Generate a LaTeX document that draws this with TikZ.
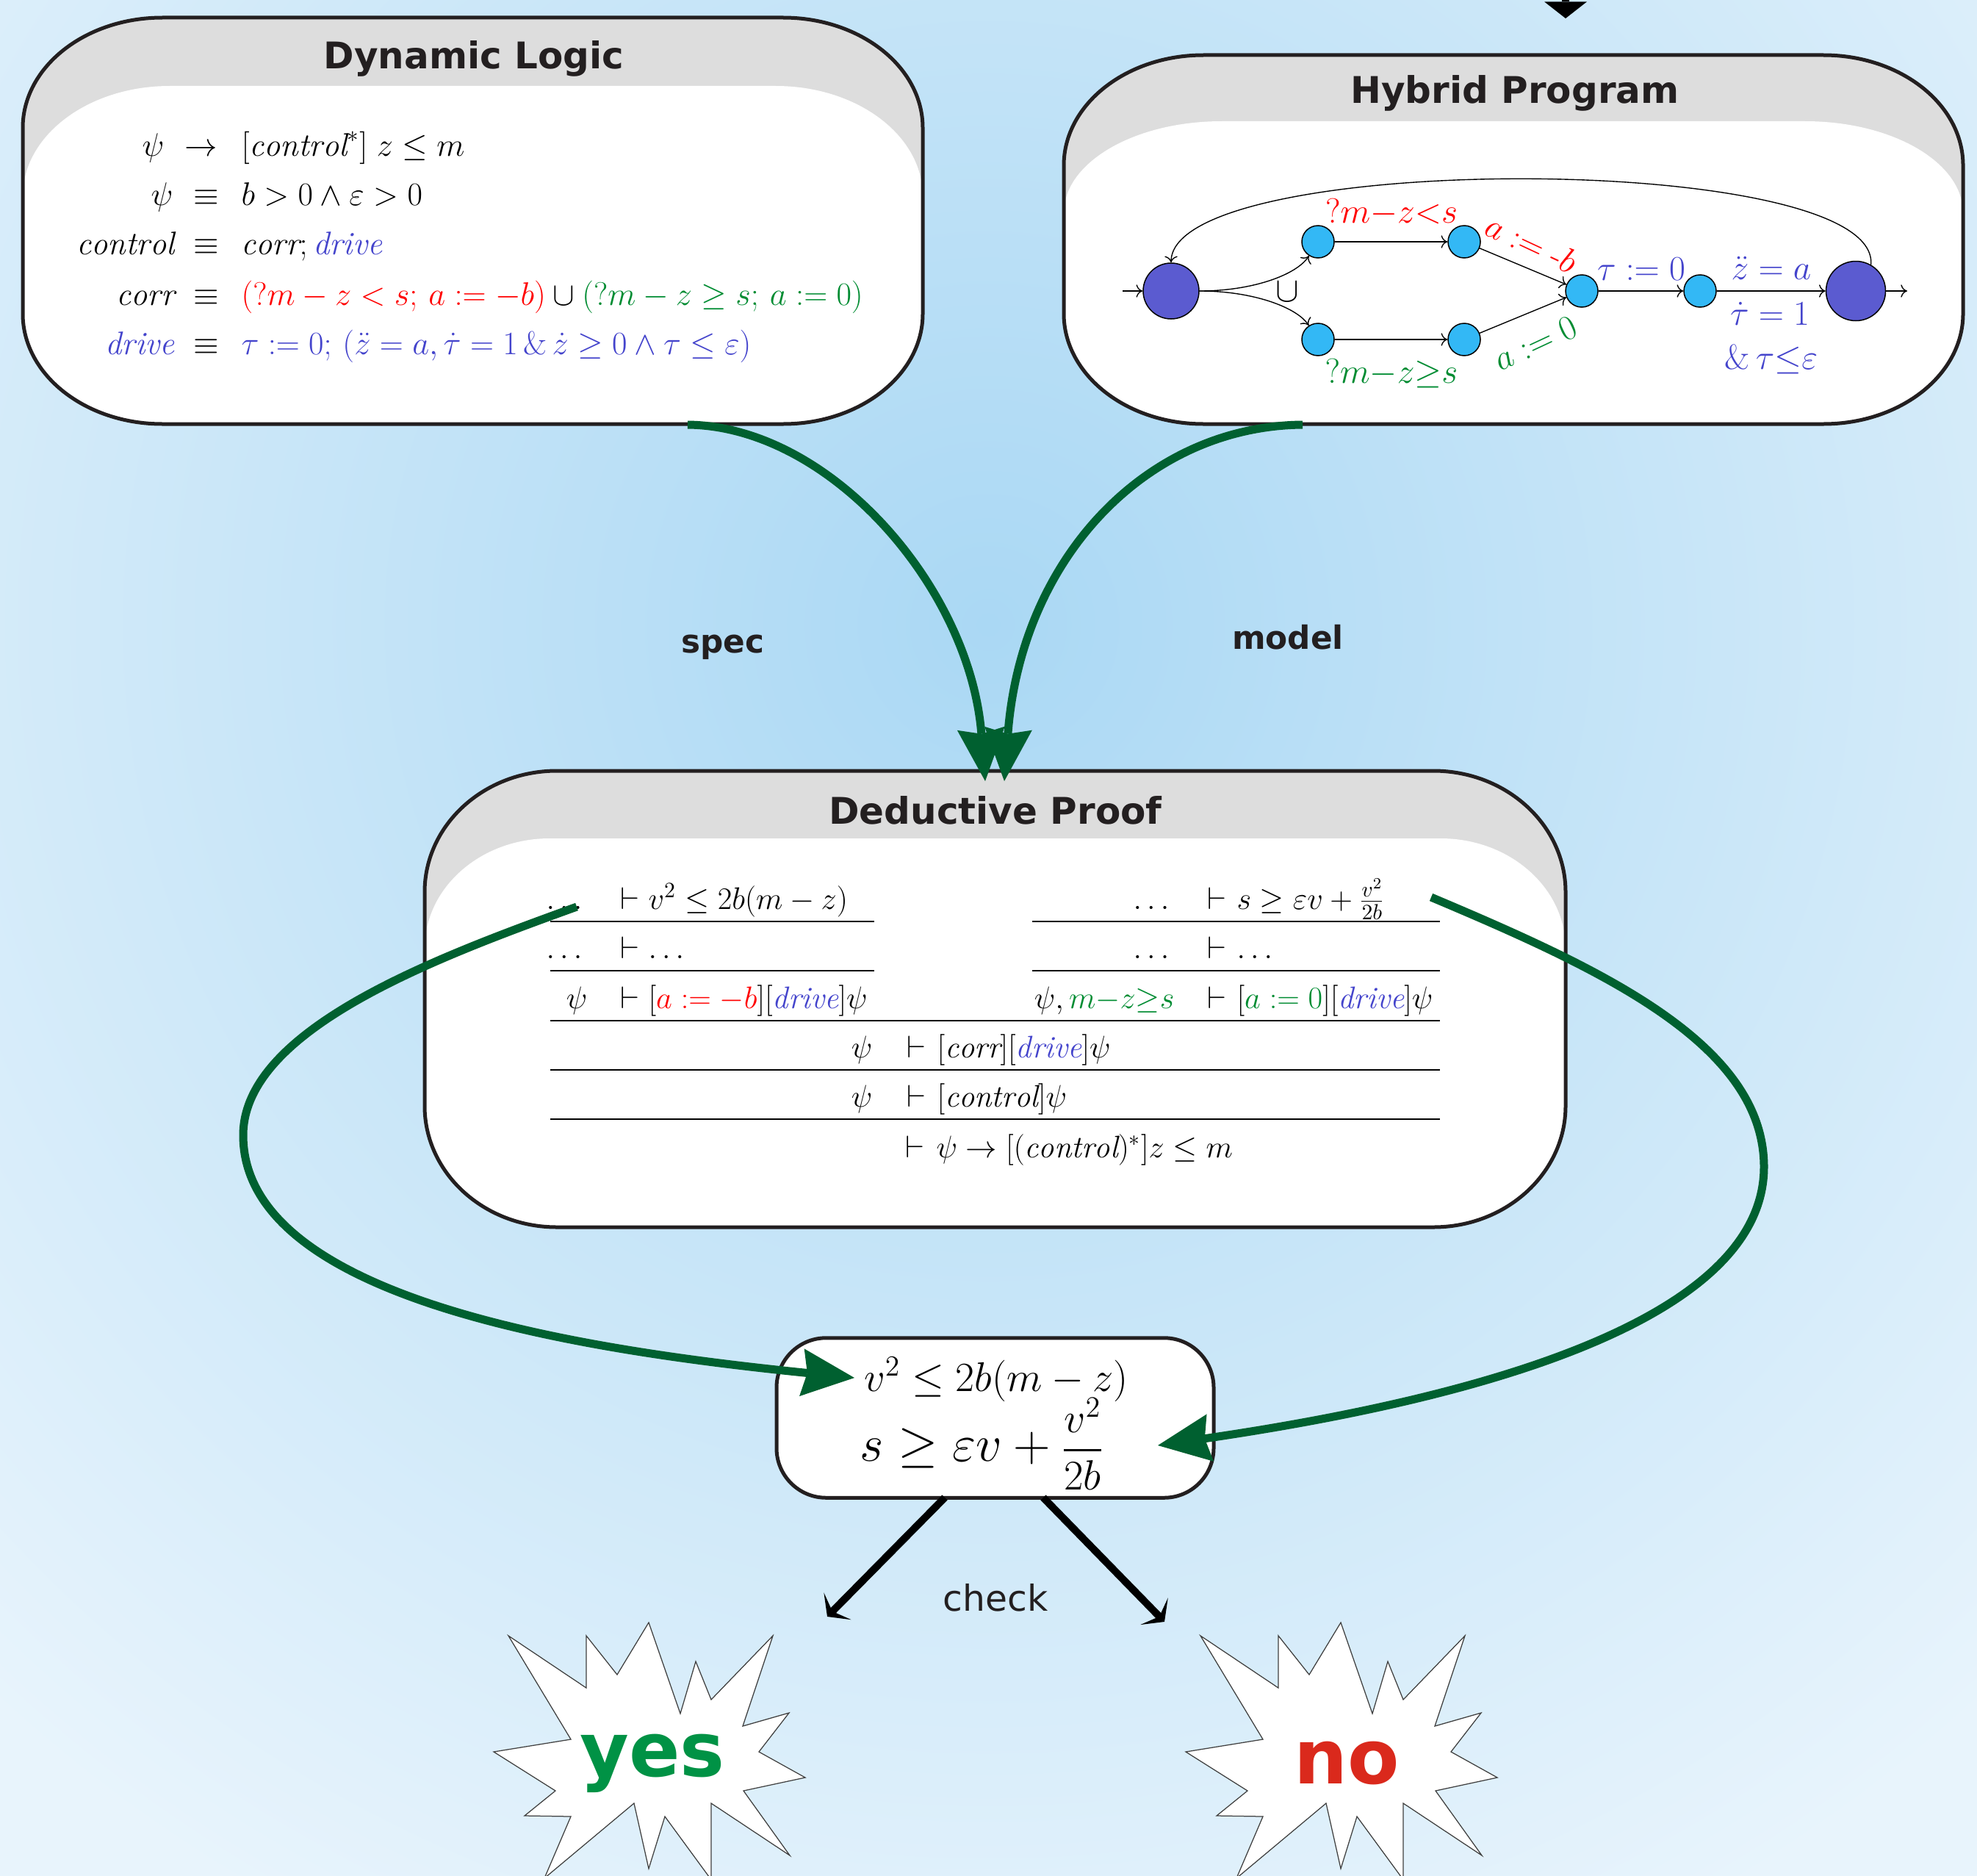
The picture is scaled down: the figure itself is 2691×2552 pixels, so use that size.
\RequirePackage{fix-cm}
\documentclass[tikz,border=0pt]{standalone}
\usepackage{amsmath}
\usepackage{fontspec}
\newfontfamily\dv{DejaVu Sans}
\usetikzlibrary{arrows.meta}
\definecolor{bgin}{RGB}{170,216,244}
\definecolor{bgout}{RGB}{232,244,252}
\definecolor{hdr}{RGB}{221,221,221}
\definecolor{bdr}{RGB}{35,31,32}
\definecolor{dgreen}{RGB}{0,96,48}
\definecolor{cred}{RGB}{255,0,0}
\definecolor{cgreen}{RGB}{0,140,50}
\definecolor{cblue}{RGB}{68,68,204}
\definecolor{nodeA}{RGB}{91,91,208}
\definecolor{nodeB}{RGB}{51,184,245}
\definecolor{yesg}{RGB}{0,146,69}
\definecolor{nor}{RGB}{218,41,28}
\newcommand\erect[6]{(#1,{#2+#6}) arc[start angle=180,end angle=270,x radius=#5,y radius=#6] -- ({#3-#5},#2) arc[start angle=270,end angle=360,x radius=#5,y radius=#6] -- (#3,{#4-#6}) arc[start angle=0,end angle=90,x radius=#5,y radius=#6] -- ({#1+#5},#4) arc[start angle=90,end angle=180,x radius=#5,y radius=#6] -- cycle}
\newcommand\starpath{(883,2208) -- (926,2332) -- (947,2261) -- (968,2313) -- (1052,2226) -- (1011,2349) -- (1074,2331) -- (1033,2384) -- (1096,2419) -- (1012,2437) -- (1075,2525) -- (968,2454) -- (968,2558) -- (905,2472) -- (883,2543) -- (863,2454) -- (741,2556) -- (777,2472) -- (714,2471) -- (756,2437) -- (672,2384) -- (777,2367) -- (692,2226) -- (798,2297) -- (798,2226) -- (840,2279) -- cycle}
\begin{document}
\begin{tikzpicture}[x=0.4pt,y=-0.4pt,
 mt/.style={inner sep=0pt, font=\fontsize{17.8pt}{21pt}\selectfont},
 pf/.style={inner sep=0pt, font=\fontsize{17pt}{20pt}\selectfont},
 al/.style={inner sep=0pt, font=\fontsize{19pt}{22pt}\selectfont},
 fb/.style={inner sep=0pt, font=\fontsize{22.6pt}{26pt}\selectfont},
 fc/.style={inner sep=0pt, font=\fontsize{28pt}{32pt}\selectfont},
 ttl/.style={inner sep=0pt, anchor=base, text=bdr, font=\dv\bfseries\fontsize{20pt}{24pt}\selectfont},
 lab/.style={inner sep=0pt, anchor=base, text=bdr, font=\dv\bfseries\fontsize{17.5pt}{21pt}\selectfont},
 boxborder/.style={draw=bdr, line width=2pt},
 garr/.style={draw=dgreen, line width=4.4pt, -{Stealth[length=28.8pt,width=26pt,inset=3pt,line width=0pt]}},
 karr/.style={draw=black, line width=4pt, -{Stealth[length=8pt,width=21pt,inset=4pt,line width=0pt]}},
 tarr/.style={draw=black, line width=4pt, -{Stealth[length=9pt,width=23pt,inset=0pt,line width=0pt]}},
 ae/.style={draw=black, line width=0.55pt, -{To[length=3.5pt,width=7pt]}},
 bigst/.style={circle, draw=black, line width=0.6pt, fill=nodeA, inner sep=0pt},
 smst/.style={circle, draw=black, line width=0.6pt, fill=nodeB, inner sep=0pt, minimum size=17.6pt},
 rule/.style={draw=black, line width=1pt},
 starst/.style={fill=white, draw=black!75, line width=0.5pt}]
\useasboundingbox (0,0) rectangle (2691,2552);
% background
\begin{scope}
\clip (0,0) rectangle (2691,2552);
\shade[inner color=bgin,outer color=bgout] (-655,-1150) rectangle (3345,2850);
\end{scope}

% ---------- Dynamic Logic box
\fill[hdr] \erect{31}{24}{1256}{577}{190}{150};
\begin{scope}
\clip \erect{31}{24}{1256}{577}{190}{150};
\fill[white] \erect{31}{117}{1256}{900}{200}{150};
\end{scope}
\draw[boxborder] \erect{31}{24}{1256}{577}{190}{150};
\node[ttl] (dltitle) at (645,94) {Dynamic Logic};
\node[mt,anchor=base east] (d1a) at (224,212) {$\psi$};
\node[mt,anchor=base] (d1b) at (274,212) {$\rightarrow$};
\node[mt,anchor=base west] (d1c) at (328,212) {$[\mathit{control}^*]\; z \le m$};
\node[mt,anchor=base east] (d2a) at (236,279) {$\psi$};
\node[mt,anchor=base] (d2b) at (281,279) {$\equiv$};
\node[mt,anchor=base west] (d2c) at (328,279) {$b > 0 \land \varepsilon > 0$};
\node[mt,anchor=base east] (d3a) at (238,346) {$\mathit{control}$};
\node[mt,anchor=base] (d3b) at (281,346) {$\equiv$};
\node[mt,anchor=base west] (d3c) at (328,346) {$\mathit{corr};\textcolor{cblue}{\mathit{drive}}$};
\node[mt,anchor=base east] (d4a) at (238,415) {$\mathit{corr}$};
\node[mt,anchor=base] (d4b) at (281,415) {$\equiv$};
\node[mt,anchor=base west] (d4c) at (328,415) {$\textcolor{cred}{(?m - z < s;\, a := -b)} \cup \textcolor{cgreen}{(?m - z \ge s;\, a := 0)}$};
\node[mt,anchor=base east,text=cblue] (d5a) at (238,482) {$\mathit{drive}$};
\node[mt,anchor=base] (d5b) at (281,482) {$\equiv$};
\node[mt,anchor=base west,text=cblue] (d5c) at (328,482) {$\tau := 0;\, (\ddot z = a, \dot\tau = 1\,\&\,\dot z \ge 0 \land \tau \le \varepsilon)$};

% ---------- Hybrid Program box
\fill[hdr] \erect{1448}{75}{2672}{577}{190}{150};
\begin{scope}
\clip \erect{1448}{75}{2672}{577}{190}{150};
\fill[white] \erect{1448}{165}{2672}{900}{215}{125};
\end{scope}
\draw[boxborder] \erect{1448}{75}{2672}{577}{190}{150};
\node[ttl] (hptitle) at (2062,141) {Hybrid Program};

\coordinate (topin) at (2131,-40);
\coordinate (hpin) at (2131,25);
\draw[tarr] (topin) -- (hpin);

\node[bigst,minimum size=30.4pt] (s0) at (1594,396) {};
\node[smst] (u1) at (1794,329) {};
\node[smst] (u2) at (1993,329) {};
\node[smst] (l1) at (1794,462) {};
\node[smst] (l2) at (1993,462) {};
\node[smst] (j) at (2153,396) {};
\node[smst] (n) at (2314,396) {};
\node[bigst,minimum size=32.4pt] (e) at (2526,396) {};
\coordinate (inS) at (1528,396);
\coordinate (outE) at (2596,396);
\draw[ae] (inS) -- (s0);
\draw[ae] (s0.east) .. controls (1705,396) and (1765,374) .. (u1);
\draw[ae] (s0.east) .. controls (1705,396) and (1765,418) .. (l1);
\draw[ae] (u1) -- (u2);
\draw[ae] (l1) -- (l2);
\draw[ae] (u2) -- (j);
\draw[ae] (l2) -- (j);
\draw[ae] (j) -- (n);
\draw[ae] (n) -- (e);
\draw[ae] (e) -- (outE);
\draw[ae] (e.60) .. controls (2560,205) and (1594,205) .. (s0.north);
\node[al] (cup) at (1752,397) {$\cup$};
\node[al,text=cred] (lb1) at (1894,289) {$?m{-}z{<}s$};
\node[al,text=cred,rotate=-25] (lb2) at (2085,331) {$a := \text{-}b$};
\node[al,text=cgreen,rotate=25] (lb3) at (2090,467) {$a := 0$};
\node[al,text=cgreen] (lb4) at (1894,508) {$?m{-}z{\ge}s$};
\node[al,text=cblue] (lb5) at (2234,366) {$\tau := 0$};
\node[al,text=cblue,anchor=base] (lb6) at (2411,380) {$\ddot z = a$};
\node[al,text=cblue,anchor=base] (lb7) at (2409,442) {$\dot\tau = 1$};
\node[al,text=cblue,anchor=base] (lb8) at (2411,502) {$\&\,\tau{\le}\varepsilon$};

% ---------- Deductive Proof box
\fill[hdr] \erect{578}{1049}{2131}{1670}{180}{165};
\begin{scope}
\clip \erect{578}{1049}{2131}{1670}{180}{165};
\fill[white] \erect{578}{1141}{2131}{2000}{170}{150};
\end{scope}
\draw[boxborder] \erect{578}{1049}{2131}{1670}{180}{165};
\node[ttl] (dptitle) at (1355,1121) {Deductive Proof};

% rules
\draw[rule] (749,1254) -- (1190,1254);
\draw[rule] (1405,1254) -- (1960,1254);
\draw[rule] (749,1321) -- (1190,1321);
\draw[rule] (1405,1321) -- (1960,1321);
\draw[rule] (749,1389) -- (1960,1389);
\draw[rule] (749,1456) -- (1960,1456);
\draw[rule] (749,1523) -- (1960,1523);
% left column
\node[pf,anchor=base east] (p1a) at (800,1237) {$\dots$};
\node[pf,anchor=base] (p1b) at (857,1237) {$\vdash$};
\node[pf,anchor=base west] (p1c) at (882,1237) {$v^2 \le 2b(m - z)$};
\node[pf,anchor=base east] (p2a) at (800,1304) {$\dots$};
\node[pf,anchor=base] (p2b) at (857,1304) {$\vdash$};
\node[pf,anchor=base west] (p2c) at (882,1304) {$\dots$};
\node[pf,anchor=base east] (p3a) at (800,1372) {$\psi$};
\node[pf,anchor=base] (p3b) at (857,1372) {$\vdash$};
\node[pf,anchor=base west] (p3c) at (882,1372) {$[\textcolor{cred}{a := -b}][\textcolor{cblue}{\mathit{drive}}]\psi$};
% right column
\node[pf,anchor=base east] (q1a) at (1599,1237) {$\dots$};
\node[pf,anchor=base] (q1b) at (1656,1237) {$\vdash$};
\node[pf,anchor=base west] (q1c) at (1683,1237) {$s \ge \varepsilon v + \frac{v^2}{2b}$};
\node[pf,anchor=base east] (q2a) at (1599,1304) {$\dots$};
\node[pf,anchor=base] (q2b) at (1656,1304) {$\vdash$};
\node[pf,anchor=base west] (q2c) at (1683,1304) {$\dots$};
\node[pf,anchor=base east] (q3a) at (1599,1372) {$\psi, \textcolor{cgreen}{m{-}z{\ge}s}$};
\node[pf,anchor=base] (q3b) at (1656,1372) {$\vdash$};
\node[pf,anchor=base west] (q3c) at (1683,1372) {$[\textcolor{cgreen}{a := 0}][\textcolor{cblue}{\mathit{drive}}]\psi$};
% center rows
\node[pf,anchor=base east] (c4a) at (1188,1439) {$\psi$};
\node[pf,anchor=base] (c4b) at (1247,1439) {$\vdash$};
\node[pf,anchor=base west] (c4c) at (1275,1439) {$[\mathit{corr}][\textcolor{cblue}{\mathit{drive}}]\psi$};
\node[pf,anchor=base east] (c5a) at (1188,1506) {$\psi$};
\node[pf,anchor=base] (c5b) at (1247,1506) {$\vdash$};
\node[pf,anchor=base west] (c5c) at (1275,1506) {$[\mathit{control}]\psi$};
\node[pf,anchor=base] (c6b) at (1245,1575) {$\vdash$};
\node[pf,anchor=base west] (c6c) at (1274,1575) {$\psi \rightarrow [(\mathit{control})^*]z \le m$};

% ---------- result box
\node[draw=bdr, line width=2pt, fill=white, rounded corners=27pt, minimum width=238pt, minimum height=87pt, inner sep=0pt] (res) at (1354.5,1929.5) {};
\node[fb,anchor=base] (f1) at (1356,1893) {$v^2 \le 2b(m - z)$};
\node[fc,anchor=base west] (f2) at (1170,1988) {$s \ge \varepsilon v + \mbox{\fontsize{23pt}{26pt}\selectfont$\dfrac{v^2}{2b}$}$};

% ---------- green arrows
\coordinate (specS) at (936,578);
\coordinate (specE) at (1341,1063);
\draw[garr] (specS) .. controls (1130,580) and (1320,800) .. (specE);
\coordinate (modS) at (1773,578);
\coordinate (modE) at (1367,1063);
\draw[garr] (modS) .. controls (1560,580) and (1390,760) .. (modE);
\node[lab] (spec) at (984,888) {spec};
\node[lab] (model) at (1753,883) {model};

\coordinate (lpS) at (785,1234);
\coordinate (lpL) at (331,1545);
\coordinate (lpE) at (1163,1875);
\draw[garr] (lpS) .. controls (597,1302) and (331,1400) .. (lpL) .. controls (331,1770) and (800,1838) .. (lpE);
\coordinate (rpS) at (1948,1221);
\coordinate (rpR) at (2401,1588);
\coordinate (rpE) at (1576,1967);
\draw[garr] (rpS) .. controls (2178,1318) and (2401,1420) .. (rpR) .. controls (2401,1800) and (2000,1905) .. (rpE);

% ---------- check arrows
\coordinate (resL) at (1286,2038);
\coordinate (chkL) at (1126,2200);
\coordinate (resR) at (1420,2038);
\coordinate (chkR) at (1585,2207);
\draw[karr] (resL) -- (chkL);
\draw[karr] (resR) -- (chkR);
\node[inner sep=0pt, anchor=base, text=bdr, font=\dv\fontsize{19.5pt}{23pt}\selectfont] (chk) at (1355,2192) {check};

% ---------- stars
\path[starst] \starpath;
\begin{scope}[shift={(942,0)}]
\path[starst] \starpath;
\end{scope}
\node[inner sep=0pt, anchor=base, text=yesg, font=\dv\bfseries\fontsize{41pt}{48pt}\selectfont] (yes) at (888,2417) {yes};
\node[inner sep=0pt, anchor=base, text=nor, font=\dv\bfseries\fontsize{41pt}{48pt}\selectfont] (no) at (1833,2427) {no};
\end{tikzpicture}
\end{document}
